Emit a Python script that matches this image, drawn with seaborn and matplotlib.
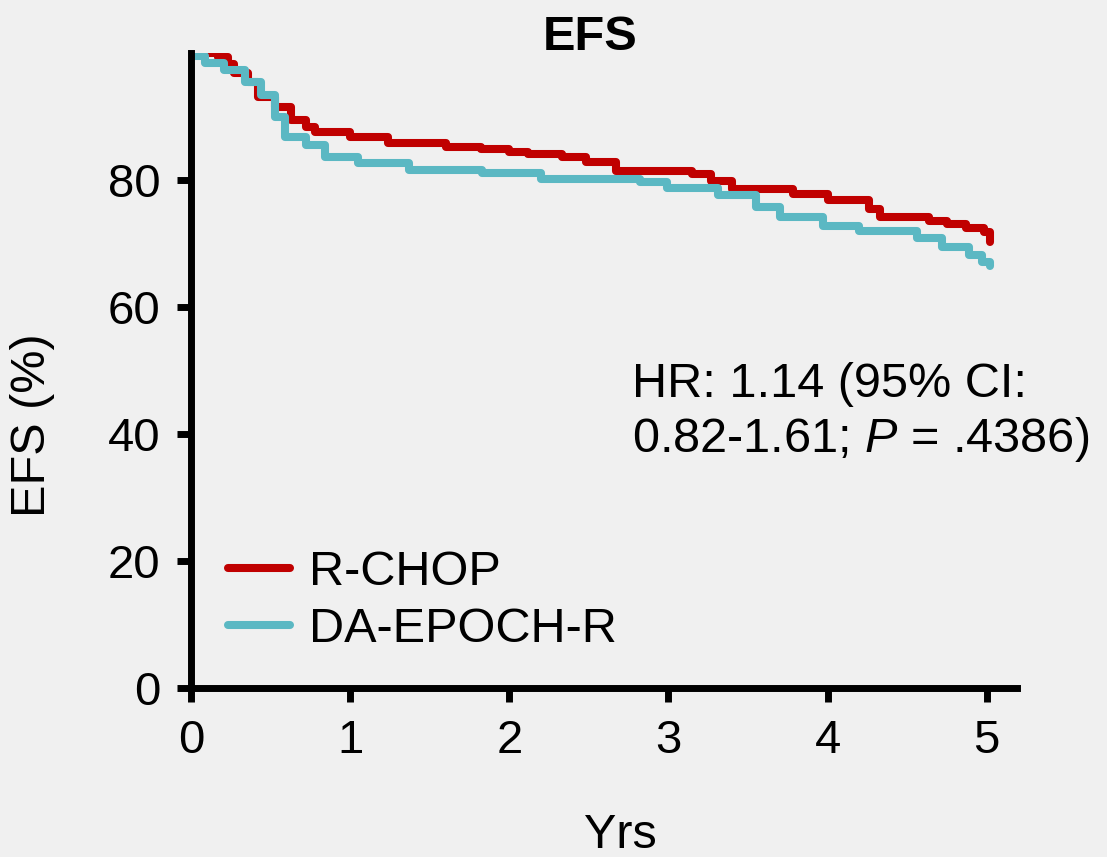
import pandas as pd
import matplotlib
matplotlib.use("Agg")
import matplotlib.pyplot as plt
import seaborn as sns

# Kaplan-Meier step points (years, EFS %)
rchop_t = [0, 0.17, 0.23, 0.27, 0.36, 0.42, 0.53, 0.63, 0.72, 0.78, 1.0, 1.24,
           1.6, 1.82, 2.0, 2.12, 2.33, 2.48, 2.67, 3.15, 3.27, 3.4, 3.78, 4.0,
           4.26, 4.33, 4.64, 4.75, 4.87, 4.98, 5.02]
rchop_s = [100, 99.3, 98.3, 96.8, 95.5, 93.0, 91.5, 89.5, 88.3, 87.5, 86.8, 85.8,
           85.2, 84.9, 84.4, 84.1, 83.6, 82.8, 81.4, 80.9, 79.8, 78.6, 77.8, 76.9,
           75.5, 74.2, 73.5, 73.1, 72.4, 71.8, 70.3]

epoch_t = [0, 0.09, 0.21, 0.34, 0.44, 0.53, 0.59, 0.72, 0.84, 1.05, 1.37, 1.83,
           2.2, 2.82, 2.99, 3.31, 3.55, 3.70, 3.97, 4.2, 4.56, 4.72, 4.89, 4.97, 5.02]
epoch_s = [99.5, 98.4, 97.3, 95.4, 93.4, 89.9, 86.8, 85.5, 83.6, 82.7, 81.6, 81.1,
           80.2, 79.7, 78.7, 77.6, 75.7, 74.2, 72.8, 72.0, 70.9, 69.4, 68.2, 67.1, 66.5]

arms = ["R-CHOP", "DA-EPOCH-R"]
arm_colors = ["#C00000", "#5BB8C3"]
x_ticks = [0, 1, 2, 3, 4, 5]
y_ticks = [0, 20, 40, 60, 80]

df = pd.concat([
    pd.DataFrame({"Yrs": rchop_t, "EFS": rchop_s, "arm": arms[0]}),
    pd.DataFrame({"Yrs": epoch_t, "EFS": epoch_s, "arm": arms[1]}),
])

sns.set_style("white")
plt.rcParams["font.family"] = ["Liberation Sans", "DejaVu Sans"]
plt.rcParams["text.color"] = "black"
plt.rcParams["mathtext.fontset"] = "custom"
plt.rcParams["mathtext.rm"] = "Liberation Sans"
plt.rcParams["mathtext.it"] = "Liberation Sans:italic"

bg = "#F0F0F0"
fig = plt.figure(figsize=(11.07, 8.57), dpi=100, facecolor=bg)
ax = fig.add_axes([0.1725, 0.1972, 0.9187 - 0.1725, 0.9382 - 0.1972])
ax.set_facecolor(bg)

sns.lineplot(data=df, x="Yrs", y="EFS", hue="arm", hue_order=arms,
             palette=arm_colors, estimator=None, sort=False,
             drawstyle="steps-post", linewidth=5.8, ax=ax, legend=False)

ax.set_xlim(0, 5.19)
ax.set_ylim(0, 100)
ax.set_xticks(x_ticks)
ax.set_yticks(y_ticks)
ax.set_xlabel("")
ax.set_ylabel("")
for s in ["top", "right"]:
    ax.spines[s].set_visible(False)
for s in ["left", "bottom"]:
    ax.spines[s].set_linewidth(5)
    ax.spines[s].set_color("black")
ax.tick_params(axis="both", direction="out", width=5, length=10,
               labelsize=34, pad=12, color="black", labelcolor="black",
               bottom=True, left=True)

fs = 35
fig.text(590 / 1107, 1 - 38 / 857, "EFS", ha="center", va="center",
         fontsize=fs, fontweight="bold")
fig.text(33 / 1107, 1 - 425 / 857, "EFS (%)", ha="center", va="center",
         rotation=90, fontsize=fs)
fig.text(620 / 1107, 1 - 835 / 857, "Yrs", ha="center", va="center", fontsize=fs)
fig.text(632 / 1107, 1 - 385 / 857, "HR: 1.14 (95% CI:", ha="left", va="center",
         fontsize=fs)
fig.text(632 / 1107, 1 - 440 / 857, "0.82-1.61; $P$ = .4386)", ha="left",
         va="center", fontsize=fs)

handles = [plt.Line2D([], [], color=c, linewidth=5.8) for c in arm_colors]
leg = ax.legend(handles, arms, loc="upper left", frameon=False, fontsize=fs,
                handlelength=1.27, handletextpad=0.4, labelspacing=0.25,
                borderaxespad=0, borderpad=0,
                bbox_to_anchor=(228 / 1107, 1 - 550 / 857),
                bbox_transform=fig.transFigure)
for t in leg.get_texts():
    t.set_color("black")

fig.savefig("out.png", dpi=100, facecolor=bg)
